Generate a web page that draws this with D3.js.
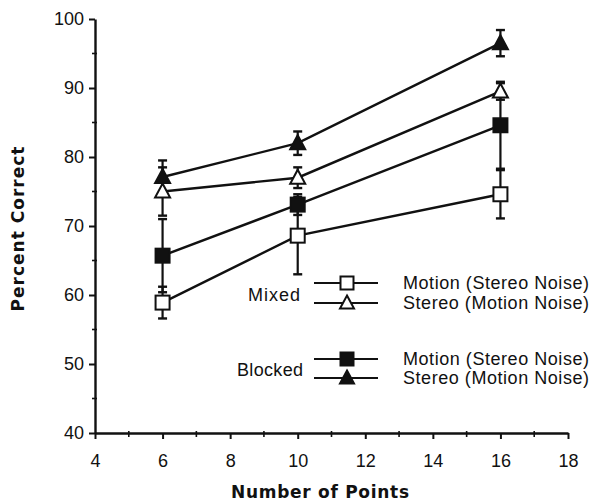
<!DOCTYPE html>
<html>
<head>
<meta charset="utf-8">
<script src="https://cdn.jsdelivr.net/npm/d3@7"></script>
<style>
  body { margin:0; background:#fff; }
  text { font-family:"Liberation Sans", Arial, sans-serif; fill:#111; }
</style>
</head>
<body>
<script>
// data
const points = [6, 10, 16]
const mixedMotion  = [58.9, 68.6, 74.6]
const mixedStereo  = [75.0, 77.0, 89.5]
const blockedMotion = [65.7, 73.1, 84.6]
const blockedStereo = [77.1, 82.0, 96.5]
const mixedMotionErr  = [2.3, 5.6, 3.5]
const mixedStereoErr  = [3.5, 1.5, 1.2]
const blockedMotionErr = [5.3, 1.5, 6.3]
const blockedStereoErr = [2.4, 1.7, 1.9]
const xTicks = [4, 6, 8, 10, 12, 14, 16, 18]
const yTicks = [40, 50, 60, 70, 80, 90, 100]

const series = [
  {name:'Motion (Stereo Noise)', group:'Mixed', vals:mixedMotion, err:mixedMotionErr, shape:'square', fill:'#fff'},
  {name:'Stereo (Motion Noise)', group:'Mixed', vals:mixedStereo, err:mixedStereoErr, shape:'triangle', fill:'#fff'},
  {name:'Motion (Stereo Noise)', group:'Blocked', vals:blockedMotion, err:blockedMotionErr, shape:'square', fill:'#111'},
  {name:'Stereo (Motion Noise)', group:'Blocked', vals:blockedStereo, err:blockedStereoErr, shape:'triangle', fill:'#111'},
]

const W = 593, H = 502
const svg = d3.select('body').append('svg').attr('width',W).attr('height',H)

const x = d3.scaleLinear().domain([4,18]).range([95,568])
const y = d3.scaleLinear().domain([40,100]).range([433,19])

// axes
const $ax = svg.append('g')
const xAxis = $ax.append('g').attr('transform','translate(0,433)')
  .call(d3.axisBottom(x).tickValues(xTicks).tickSizeOuter(0).tickSizeInner(6).tickFormat(d3.format('d')))
const yAxis = $ax.append('g').attr('transform','translate(95,0)')
  .call(d3.axisLeft(y).tickValues(yTicks).tickSizeOuter(0).tickSizeInner(6))
;[xAxis,yAxis].forEach(a => {
  a.select('.domain').attr('stroke','#111').attr('stroke-width',2.4)
  a.selectAll('.tick line').attr('stroke','#111').attr('stroke-width',2)
  a.selectAll('.tick text').style('font-family','"Liberation Sans", Arial, sans-serif')
    .style('font-size','18px').attr('fill','#111')
})
xAxis.selectAll('.tick text').attr('y',34).attr('dy',0)
yAxis.selectAll('.tick text').attr('x',-11)

// minor ticks
$ax.append('g').selectAll('line').data(d3.range(5,18,2)).enter().append('line')
  .attr('x1',d => x(d)).attr('x2',d => x(d)).attr('y1',431).attr('y2',437)
  .attr('stroke','#111').attr('stroke-width',1.6)
$ax.append('g').selectAll('line').data(d3.range(45,100,10)).enter().append('line')
  .attr('x1',92).attr('x2',97).attr('y1',d => y(d)).attr('y2',d => y(d))
  .attr('stroke','#111').attr('stroke-width',1.6)

// titles
svg.append('text').attr('x',320).attr('y',498).attr('text-anchor','middle')
  .attr('textLength',178).attr('lengthAdjust','spacing')
  .style('font-family','"DejaVu Sans", sans-serif')
  .style('font-weight','bold').style('font-size','17px').text('Number  of  Points')
svg.append('text').attr('transform','translate(24,229) rotate(-90)').attr('text-anchor','middle')
  .attr('textLength',165).attr('lengthAdjust','spacing')
  .style('font-family','"DejaVu Sans", sans-serif')
  .style('font-weight','bold').style('font-size','17px').text('Percent  Correct')

function marker(sel, shape, fill, s){
  if(shape == 'square'){
    sel.append('rect').attr('x',-s/2).attr('y',-s/2).attr('width',s).attr('height',s)
      .attr('fill',fill).attr('stroke','#111').attr('stroke-width',2)
  } else {
    const h = s*0.95
    sel.append('path').attr('d',`M0,${-h*0.6}L${s/2+0.5},${h*0.45}L${-s/2-0.5},${h*0.45}Z`)
      .attr('fill',fill).attr('stroke','#111').attr('stroke-width',2).attr('stroke-linejoin','miter')
  }
}

const line = d3.line().x(d => x(d[0])).y(d => y(d[1]))
const $err = svg.append('g')
const $lines = svg.append('g')
const $marks = svg.append('g')

series.forEach(s => {
  const pts = points.map((p,i) => [p, s.vals[i], s.err[i]])
  $lines.append('path').attr('d',line(pts)).attr('fill','none')
    .attr('stroke','#111').attr('stroke-width',2.4)
  pts.forEach(([p,v,e]) => {
    const g = $err.append('g')
    g.append('line').attr('x1',x(p)).attr('x2',x(p)).attr('y1',y(v-e)).attr('y2',y(v+e))
      .attr('stroke','#111').attr('stroke-width',2.2)
    ;[v-e, v+e].forEach(c => g.append('line').attr('x1',x(p)-4.5).attr('x2',x(p)+4.5)
      .attr('y1',y(c)).attr('y2',y(c)).attr('stroke','#111').attr('stroke-width',2.4))
    marker($marks.append('g').attr('transform',`translate(${x(p)},${y(v)})`), s.shape, s.fill, 14)
  })
})

// legend
const legendY = [283, 303, 359, 378]
const $leg = svg.append('g')
series.forEach((s,i) => {
  const ly = legendY[i]
  $leg.append('line').attr('x1',314).attr('x2',378).attr('y1',ly).attr('y2',ly)
    .attr('stroke','#111').attr('stroke-width',2.2)
  marker($leg.append('g').attr('transform',`translate(347,${ly})`), s.shape, s.fill, 13)
  $leg.append('text').attr('x',403).attr('y',ly).attr('dy','0.36em')
    .attr('textLength',186).attr('lengthAdjust','spacing')
    .style('font-size','18px').text(s.name)
})
$leg.append('text').attr('x',300).attr('y',295).attr('dy','0.36em').attr('text-anchor','end')
  .attr('textLength',52).attr('lengthAdjust','spacing')
  .style('font-size','18px').text('Mixed')
$leg.append('text').attr('x',303).attr('y',370).attr('dy','0.36em').attr('text-anchor','end')
  .attr('textLength',66).attr('lengthAdjust','spacing')
  .style('font-size','18px').text('Blocked')
</script>
</body>
</html>
